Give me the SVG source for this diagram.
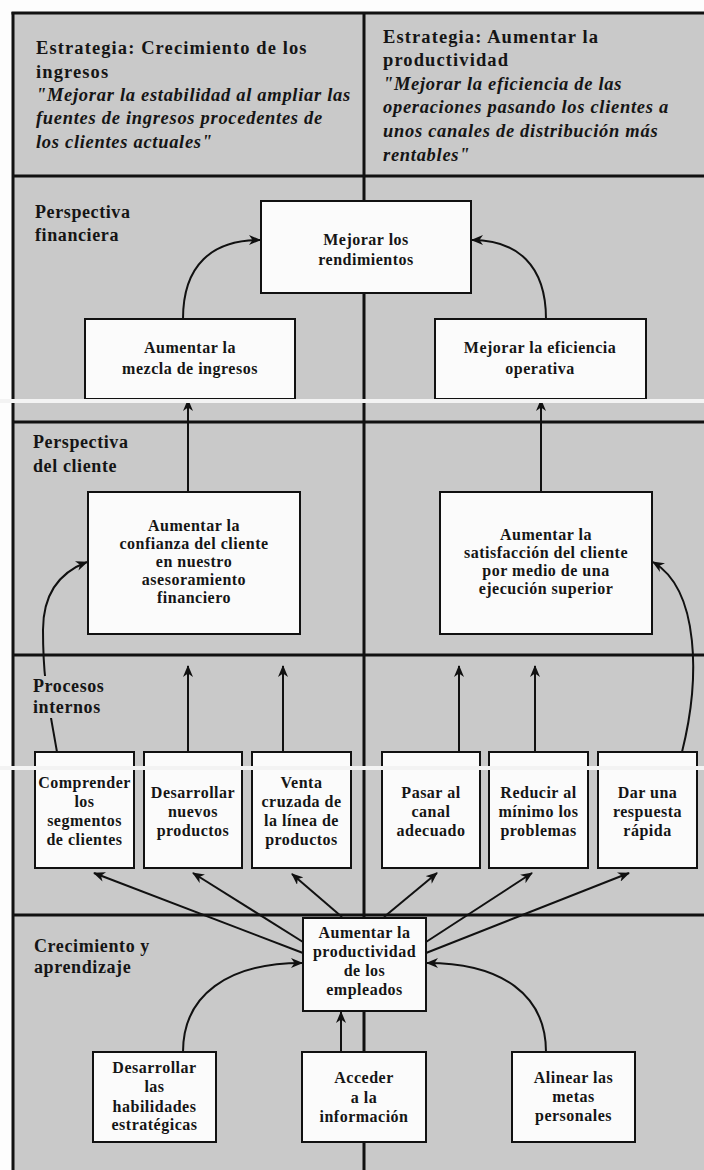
<svg xmlns="http://www.w3.org/2000/svg" width="704" height="1170" viewBox="0 0 704 1170">
  <style>
    .panel { fill: #c9c9c9; }
    .rule { stroke: #111; stroke-width: 3; fill: none; }
    .box { fill: #fbfbfb; stroke: #111; stroke-width: 2; }
    .link { stroke: #111; stroke-width: 2; fill: none; }
    .seam { fill: #f3f3f3; }
    .head { font-family: "Liberation Serif", "Times New Roman", serif; font-weight: bold; font-size: 18.5px; letter-spacing: 1.1px; fill: #151515; }
    .quote { font-family: "Liberation Serif", "Times New Roman", serif; font-weight: bold; font-style: italic; font-size: 18.5px; letter-spacing: 0.7px; fill: #151515; }
    .lane { font-family: "Liberation Serif", "Times New Roman", serif; font-weight: bold; font-size: 18px; letter-spacing: 0.6px; fill: #151515; }
    .node { font-family: "Liberation Serif", "Times New Roman", serif; font-weight: bold; font-size: 16px; letter-spacing: 0.5px; fill: #151515; text-anchor: middle; }
  </style>
  <defs>
    <marker id="arrow" viewBox="0 0 12 10" refX="11" refY="5" markerWidth="12" markerHeight="10" markerUnits="userSpaceOnUse" orient="auto">
      <path d="M0,0 L12,5 L0,10 L3.5,5 z" fill="#111"/>
    </marker>
  </defs>

  <!-- paper and framed panel -->
  <rect x="0" y="0" width="704" height="1170" fill="#fdfdfd"/>
  <rect class="panel" x="13" y="13" width="691" height="1157"/>

  <!-- frame, lane rules and column divider -->
  <g id="grid">
    <line class="rule" x1="11.5" y1="13" x2="704" y2="13"/>
    <line class="rule" x1="13" y1="12" x2="13" y2="1170"/>
    <line class="rule" x1="13" y1="176" x2="704" y2="176"/>
    <line class="rule" x1="13" y1="422" x2="704" y2="422"/>
    <line class="rule" x1="13" y1="655" x2="704" y2="655"/>
    <line class="rule" x1="13" y1="915" x2="704" y2="915"/>
    <line class="rule" x1="364" y1="13" x2="364" y2="1170"/>
  </g>

  <!-- strategy headings -->
  <g id="strategy-growth">
    <text class="head" x="36" y="54">Estrategia: Crecimiento de los</text>
    <text class="head" x="36" y="78">ingresos</text>
    <text class="quote" x="36" y="101">"Mejorar la estabilidad al ampliar las</text>
    <text class="quote" x="36" y="124">fuentes de ingresos procedentes de</text>
    <text class="quote" x="36" y="148">los clientes actuales"</text>
  </g>
  <g id="strategy-productivity">
    <text class="head" x="383" y="43">Estrategia: Aumentar la</text>
    <text class="head" x="383" y="66">productividad</text>
    <text class="quote" x="383" y="90">"Mejorar la eficiencia de las</text>
    <text class="quote" x="383" y="113">operaciones pasando los clientes a</text>
    <text class="quote" x="383" y="137">unos canales de distribución más</text>
    <text class="quote" x="383" y="161">rentables"</text>
  </g>

  <!-- connectors -->
  <g id="connectors">
    <path class="link" marker-end="url(#arrow)" d="M183,319 C183,265 212,240 260,240"/>
    <path class="link" marker-end="url(#arrow)" d="M546,319 C546,265 517,240 472,240"/>
    <path class="link" marker-end="url(#arrow)" d="M188,492 L188,400"/>
    <path class="link" marker-end="url(#arrow)" d="M541,492 L541,400"/>
    <path class="link" marker-end="url(#arrow)" d="M57,752 C48,700 43,680 43,630 C43,595 58,573 87,562"/>
    <path class="link" marker-end="url(#arrow)" d="M682,752 C700,680 700,590 653,562"/>
    <path class="link" marker-end="url(#arrow)" d="M188,752 L188,666"/>
    <path class="link" marker-end="url(#arrow)" d="M283,752 L283,666"/>
    <path class="link" marker-end="url(#arrow)" d="M459,752 L459,666"/>
    <path class="link" marker-end="url(#arrow)" d="M535,752 L535,666"/>
    <path class="link" marker-end="url(#arrow)" d="M303,953 L94,873"/>
    <path class="link" marker-end="url(#arrow)" d="M303,942 L193,873"/>
    <path class="link" marker-end="url(#arrow)" d="M342,917 L292,874"/>
    <path class="link" marker-end="url(#arrow)" d="M384,917 L437,873"/>
    <path class="link" marker-end="url(#arrow)" d="M426,942 L532,873"/>
    <path class="link" marker-end="url(#arrow)" d="M426,953 L629,873"/>
    <path class="link" marker-end="url(#arrow)" d="M341,1052 L341,1012"/>
    <path class="link" marker-end="url(#arrow)" d="M183,1052 C183,995 228,963 302,963"/>
    <path class="link" marker-end="url(#arrow)" d="M546,1052 C546,995 502,963 427,963"/>
  </g>

  <!-- lane titles -->
  <g id="lane-financial">
    <text class="lane" x="35" y="218">Perspectiva</text>
    <text class="lane" x="35" y="241">financiera</text>
  </g>
  <g id="lane-customer">
    <text class="lane" x="33" y="448">Perspectiva</text>
    <text class="lane" x="33" y="472">del cliente</text>
  </g>
  <g id="lane-internal">
    <rect class="panel" x="30" y="676" width="80" height="42"/>
    <text class="lane" x="33" y="692">Procesos</text>
    <text class="lane" x="33" y="713">internos</text>
  </g>
  <g id="lane-learning">
    <text class="lane" x="34" y="952">Crecimiento y</text>
    <text class="lane" x="34" y="973">aprendizaje</text>
  </g>

  <!-- financial objectives -->
  <g id="n-returns">
    <rect class="box" x="261" y="201" width="210" height="92"/>
    <text class="node" x="366" y="245">Mejorar los</text>
    <text class="node" x="366" y="265">rendimientos</text>
  </g>
  <g id="n-revenue-mix">
    <rect class="box" x="85" y="319" width="210" height="80"/>
    <text class="node" x="190" y="353">Aumentar la</text>
    <text class="node" x="190" y="374">mezcla de ingresos</text>
  </g>
  <g id="n-efficiency">
    <rect class="box" x="435" y="319" width="211" height="80"/>
    <text class="node" x="540" y="353">Mejorar la eficiencia</text>
    <text class="node" x="540" y="374">operativa</text>
  </g>

  <!-- customer objectives -->
  <g id="n-trust">
    <rect class="box" x="88" y="492" width="212" height="142"/>
    <text class="node" x="194" y="531">Aumentar la</text>
    <text class="node" x="194" y="549">confianza del cliente</text>
    <text class="node" x="194" y="567">en nuestro</text>
    <text class="node" x="194" y="585">asesoramiento</text>
    <text class="node" x="194" y="603">financiero</text>
  </g>
  <g id="n-satisfaction">
    <rect class="box" x="440" y="492" width="212" height="142"/>
    <text class="node" x="546" y="540">Aumentar la</text>
    <text class="node" x="546" y="558">satisfacción del cliente</text>
    <text class="node" x="546" y="576">por medio de una</text>
    <text class="node" x="546" y="594">ejecución superior</text>
  </g>

  <!-- internal processes -->
  <g id="n-segments">
    <rect class="box" x="35" y="752" width="99" height="116"/>
    <text class="node" x="84.5" y="788" letter-spacing="0">Comprender</text>
    <text class="node" x="84.5" y="807">los</text>
    <text class="node" x="84.5" y="826">segmentos</text>
    <text class="node" x="84.5" y="845">de clientes</text>
  </g>
  <g id="n-new-products">
    <rect class="box" x="144" y="752" width="98" height="116"/>
    <text class="node" x="193" y="798" letter-spacing="0">Desarrollar</text>
    <text class="node" x="193" y="817">nuevos</text>
    <text class="node" x="193" y="836">productos</text>
  </g>
  <g id="n-cross-sell">
    <rect class="box" x="252" y="752" width="99" height="116"/>
    <text class="node" x="301.5" y="788">Venta</text>
    <text class="node" x="301.5" y="807">cruzada de</text>
    <text class="node" x="301.5" y="826">la línea de</text>
    <text class="node" x="301.5" y="845">productos</text>
  </g>
  <g id="n-channel">
    <rect class="box" x="382" y="752" width="98" height="116"/>
    <text class="node" x="431" y="798">Pasar al</text>
    <text class="node" x="431" y="817">canal</text>
    <text class="node" x="431" y="836">adecuado</text>
  </g>
  <g id="n-problems">
    <rect class="box" x="489" y="752" width="99" height="116"/>
    <text class="node" x="538.5" y="798">Reducir al</text>
    <text class="node" x="538.5" y="817">mínimo los</text>
    <text class="node" x="538.5" y="836">problemas</text>
  </g>
  <g id="n-response">
    <rect class="box" x="598" y="752" width="99" height="116"/>
    <text class="node" x="647.5" y="798">Dar una</text>
    <text class="node" x="647.5" y="817">respuesta</text>
    <text class="node" x="647.5" y="836">rápida</text>
  </g>

  <!-- learning and growth -->
  <g id="n-productivity">
    <rect class="box" x="303" y="918" width="123" height="93"/>
    <text class="node" x="364.5" y="938">Aumentar la</text>
    <text class="node" x="364.5" y="957" letter-spacing="0">productividad</text>
    <text class="node" x="364.5" y="976">de los</text>
    <text class="node" x="364.5" y="995">empleados</text>
  </g>
  <g id="n-skills">
    <rect class="box" x="93" y="1052" width="123" height="90"/>
    <text class="node" x="154.5" y="1073">Desarrollar</text>
    <text class="node" x="154.5" y="1092">las</text>
    <text class="node" x="154.5" y="1112">habilidades</text>
    <text class="node" x="154.5" y="1130">estratégicas</text>
  </g>
  <g id="n-information">
    <rect class="box" x="302" y="1052" width="124" height="90"/>
    <text class="node" x="364" y="1083">Acceder</text>
    <text class="node" x="364" y="1103">a la</text>
    <text class="node" x="364" y="1122">información</text>
  </g>
  <g id="n-goals">
    <rect class="box" x="512" y="1052" width="123" height="90"/>
    <text class="node" x="573.5" y="1083">Alinear las</text>
    <text class="node" x="573.5" y="1102">metas</text>
    <text class="node" x="573.5" y="1121">personales</text>
  </g>

  <!-- light scan seams across the sheet -->
  <rect class="seam" x="0" y="399" width="704" height="4"/>
  <rect class="seam" x="0" y="766" width="704" height="4"/>
</svg>
